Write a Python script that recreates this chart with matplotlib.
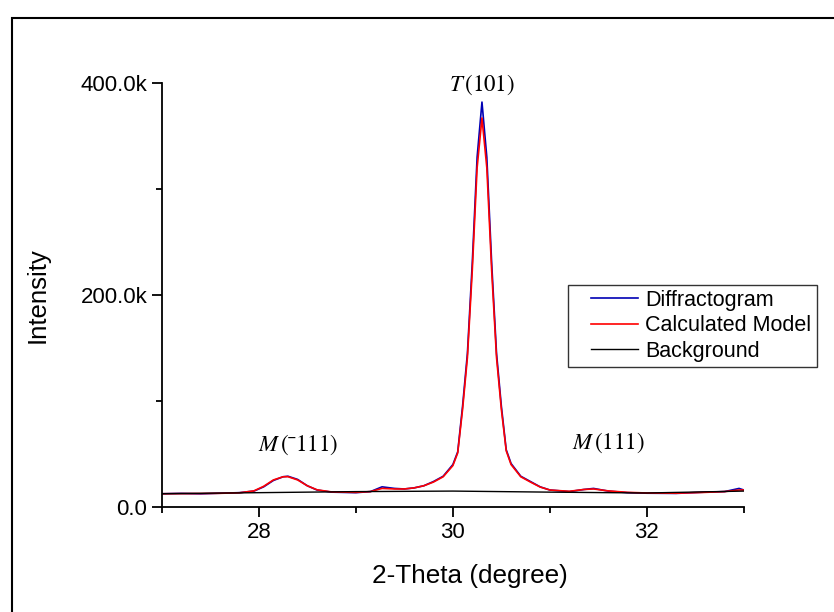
import matplotlib.pyplot as plt
from matplotlib.legend_handler import HandlerLine2D
from matplotlib.patches import Rectangle
from matplotlib.ticker import FuncFormatter, MultipleLocator

plt.rcParams['font.family'] = ['Liberation Sans', 'DejaVu Sans']
plt.rcParams['mathtext.fontset'] = 'stix'

# 2-theta positions (degree)
two_theta = [27.0, 27.2, 27.4, 27.6, 27.8, 27.95, 28.05, 28.15, 28.25, 28.3,
             28.4, 28.5, 28.6, 28.75, 29.0, 29.15, 29.27, 29.4, 29.5, 29.6,
             29.7, 29.8, 29.9, 30.0, 30.05, 30.1, 30.15, 30.2, 30.25, 30.3,
             30.35, 30.4, 30.45, 30.5, 30.55, 30.6, 30.7, 30.8, 30.9, 31.0,
             31.2, 31.35, 31.45, 31.6, 31.8, 32.0, 32.3, 32.6, 32.8, 32.95, 33.0]

diffractogram = [12.5e3, 12.8e3, 12.4e3, 13.0e3, 13.5e3, 15.0e3, 19.0e3, 25.0e3, 28.5e3, 29.0e3,
                 26.0e3, 20.0e3, 16.0e3, 14.0e3, 13.5e3, 14.5e3, 19.0e3, 17.5e3, 17.0e3, 18.0e3,
                 20.0e3, 24.0e3, 29.0e3, 40.0e3, 52.0e3, 95.0e3, 145e3, 230e3, 330e3, 382e3,
                 330e3, 230e3, 145e3, 95.0e3, 54.0e3, 41.0e3, 29.0e3, 24.0e3, 19.0e3, 16.0e3,
                 14.5e3, 16.5e3, 17.5e3, 15.0e3, 13.5e3, 13.0e3, 12.8e3, 14.0e3, 14.5e3, 17.5e3, 16.0e3]

calc_model = [12.5e3, 12.6e3, 12.7e3, 12.9e3, 13.4e3, 15.2e3, 19.5e3, 25.5e3, 28.5e3, 28.6e3,
              25.5e3, 20.0e3, 16.2e3, 14.2e3, 13.8e3, 14.5e3, 17.5e3, 17.0e3, 17.0e3, 18.0e3,
              20.0e3, 23.5e3, 28.5e3, 39.0e3, 51.0e3, 92.0e3, 141e3, 223e3, 320e3, 367e3,
              320e3, 223e3, 141e3, 92.0e3, 53.0e3, 40.0e3, 28.5e3, 23.5e3, 18.8e3, 16.0e3,
              14.8e3, 16.5e3, 17.0e3, 15.2e3, 13.8e3, 13.2e3, 13.0e3, 13.8e3, 14.5e3, 16.0e3, 16.0e3]

bg_theta = [27.0, 28.0, 29.0, 30.0, 31.0, 32.0, 33.0]
background = [12.5e3, 13.5e3, 14.5e3, 15.0e3, 14.0e3, 13.2e3, 15.0e3]

fig = plt.figure(figsize=(8.34, 6.12), dpi=100)
ax = fig.add_axes([0.194, 0.1716, 0.698, 0.6928])

ax.plot(two_theta, diffractogram, color='#0000b4', lw=1.2, label='Diffractogram')
ax.plot(two_theta, calc_model, color='#ff0000', lw=1.2, label='Calculated Model')
ax.plot(bg_theta, background, color='black', lw=1.0, label='Background')

ax.set_xlim(27, 33)
ax.set_ylim(0, 400e3)
ax.xaxis.set_major_locator(MultipleLocator(2))
ax.xaxis.set_minor_locator(MultipleLocator(1))
ax.yaxis.set_major_locator(MultipleLocator(200e3))
ax.yaxis.set_minor_locator(MultipleLocator(100e3))
ax.yaxis.set_major_formatter(FuncFormatter(lambda v, p: '0.0' if v == 0 else f'{v / 1e3:.1f}k'))

for side in ['top', 'right']:
    ax.spines[side].set_visible(False)
for side in ['left', 'bottom']:
    ax.spines[side].set_linewidth(1.3)
ax.tick_params(which='major', direction='out', length=7, width=1.3, labelsize=16)
ax.tick_params(which='minor', direction='out', length=4, width=1.3)

ax.set_xlabel('2-Theta (degree)', fontsize=18.8)
ax.xaxis.set_label_coords(0.529, -0.135)
ax.set_ylabel('Intensity', fontsize=18.5, labelpad=22)

# peak annotations
ax.text(30.3, 398e3, r'$T\,$(101)', family='STIXGeneral', fontsize=16.5,
        ha='center', va='center')
ax.text(28.41, 58.5e3, r'$M\,$(¯111)', family='STIXGeneral', fontsize=16.5,
        ha='center', va='center')
ax.text(31.6, 61e3, r'$M\,$(111)', family='STIXGeneral', fontsize=16.5,
        ha='center', va='center')

leg = ax.legend(loc='upper left', bbox_to_anchor=(0.681, 0.535), bbox_transform=fig.transFigure,
                fontsize=15.5, frameon=True, fancybox=False, framealpha=1,
                handlelength=3.0, handletextpad=0.33, borderpad=0.25, labelspacing=0.2,
                borderaxespad=0, handler_map={plt.Line2D: HandlerLine2D(xpad=0.8)})
leg.get_frame().set_edgecolor('#333333')
leg.get_frame().set_linewidth(1.0)

# outer frame round the figure
fig.patches.append(Rectangle((0.014, -0.05), 1.1, 1.02, transform=fig.transFigure,
                             fill=False, edgecolor='black', lw=1.5, clip_on=False))

fig.savefig('out.png', dpi=100)
